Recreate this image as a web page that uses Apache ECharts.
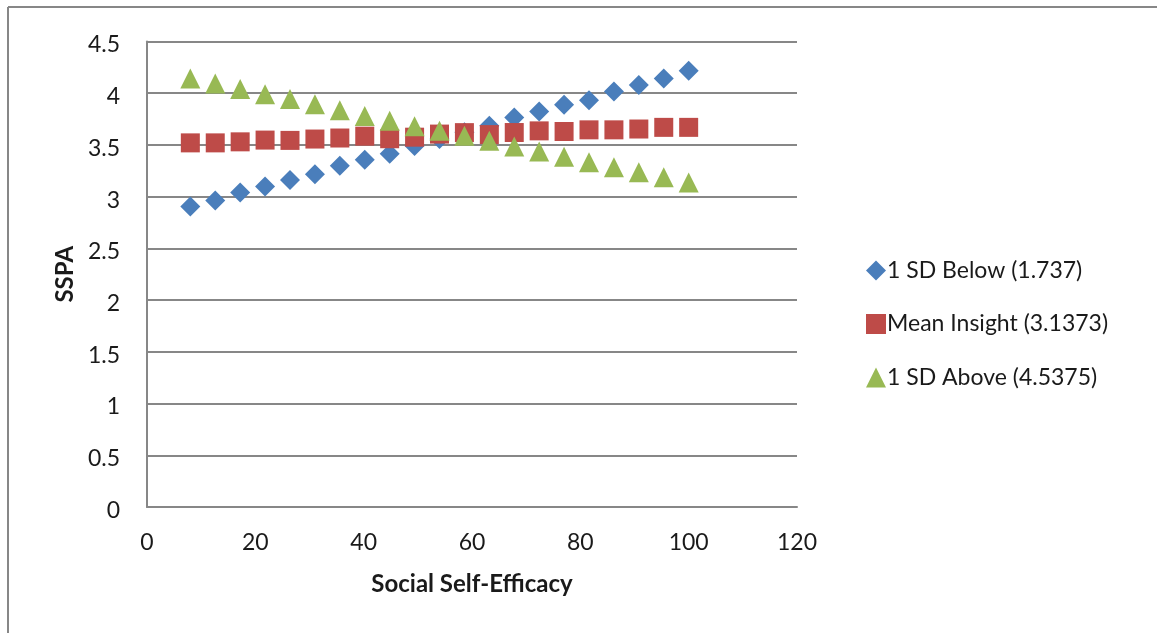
<!DOCTYPE html>
<html>
<head>
<meta charset="utf-8">
<script src="https://cdn.jsdelivr.net/npm/echarts@6/dist/echarts.min.js"></script>
<style>
html,body{margin:0;padding:0;background:#fff;}
#c{width:1157px;height:633px;}
</style>
</head>
<body>
<div id="c"></div>
<script>
var xValues = [8, 12.6, 17.2, 21.8, 26.4, 31, 35.6, 40.2, 44.8, 49.4, 54, 58.6, 63.2, 67.8, 72.4, 77, 81.6, 86.2, 90.8, 95.4, 100];
var below = [2.905, 2.963, 3.04, 3.098, 3.162, 3.217, 3.298, 3.356, 3.414, 3.49, 3.557, 3.622, 3.685, 3.765, 3.823, 3.888, 3.933, 4.017, 4.08, 4.142, 4.217];
var mean = [3.52, 3.52, 3.53, 3.547, 3.544, 3.557, 3.567, 3.585, 3.56, 3.575, 3.605, 3.619, 3.60, 3.62, 3.636, 3.63, 3.646, 3.646, 3.654, 3.67, 3.67];
var above = [4.142, 4.094, 4.04, 3.99, 3.944, 3.893, 3.835, 3.78, 3.733, 3.68, 3.638, 3.588, 3.54, 3.485, 3.436, 3.385, 3.333, 3.285, 3.237, 3.188, 3.137];
var seriesNames = ['1 SD Below (1.737)', 'Mean Insight (3.1373)', '1 SD Above (4.5375)'];
var xTitle = 'Social Self-Efficacy';
var yTitle = 'SSPA';

function pairs(ys){ return xValues.map(function(x,i){ return [x, ys[i]]; }); }

var FONT = 'Lato';
var FS = 23;
var chart = echarts.init(document.getElementById('c'), null, {renderer:'canvas'});
chart.setOption({
  animation: false,
  backgroundColor: '#fff',
  textStyle: {fontFamily: FONT},
  graphic: [
    {type:'line', shape:{x1:8, y1:7, x2:1157, y2:7}, style:{stroke:'#878787', lineWidth:2}},
    {type:'line', shape:{x1:8, y1:7, x2:8, y2:633}, style:{stroke:'#878787', lineWidth:2}}
  ],
  grid: {left:147, right:360, top:41.5, bottom:126, containLabel:false},
  xAxis: {
    type:'value', min:0, max:120, interval:20,
    name: xTitle, nameLocation:'middle', nameGap:65,
    nameTextStyle:{fontFamily:FONT, fontWeight:'bold', fontSize:24, color:'#1a1a1a'},
    axisLine:{show:true, lineStyle:{color:'#878787', width:2}},
    axisTick:{show:false},
    splitLine:{show:false},
    axisLabel:{fontFamily:FONT, fontSize:FS, color:'#1a1a1a', margin:24}
  },
  yAxis: {
    type:'value', min:0, max:4.5, interval:0.5,
    name: yTitle, nameLocation:'middle', nameGap:60, nameRotate:90,
    nameTextStyle:{fontFamily:FONT, fontWeight:'bold', fontSize:24, color:'#1a1a1a'},
    axisLine:{show:true, lineStyle:{color:'#878787', width:2}},
    axisTick:{show:false},
    splitLine:{show:true, lineStyle:{color:'#878787', width:2}},
    axisLabel:{fontFamily:FONT, fontSize:FS, color:'#1a1a1a', margin:27, verticalAlign:'top', padding:[-8,0,0,0]}
  },
  legend: {
    orient:'vertical', left:861, top:254, itemGap:30.5, itemWidth:20, itemHeight:20,
    textStyle:{fontFamily:FONT, fontSize:FS, color:'#1a1a1a', padding:[0,0,0,-4]},
    data:[
      {name:seriesNames[0], icon:'diamond'},
      {name:seriesNames[1], icon:'rect'},
      {name:seriesNames[2], icon:'triangle'}
    ]
  },
  series: [
    {name:seriesNames[0], type:'scatter', symbol:'diamond', symbolSize:20, data:pairs(below), itemStyle:{color:'#4A7EBB', opacity:1}},
    {name:seriesNames[1], type:'scatter', symbol:'rect', symbolSize:19, data:pairs(mean), itemStyle:{color:'#BE4B48', opacity:1}},
    {name:seriesNames[2], type:'scatter', symbol:'triangle', symbolSize:20, data:pairs(above), itemStyle:{color:'#98B954', opacity:1}}
  ]
});
</script>
</body>
</html>
